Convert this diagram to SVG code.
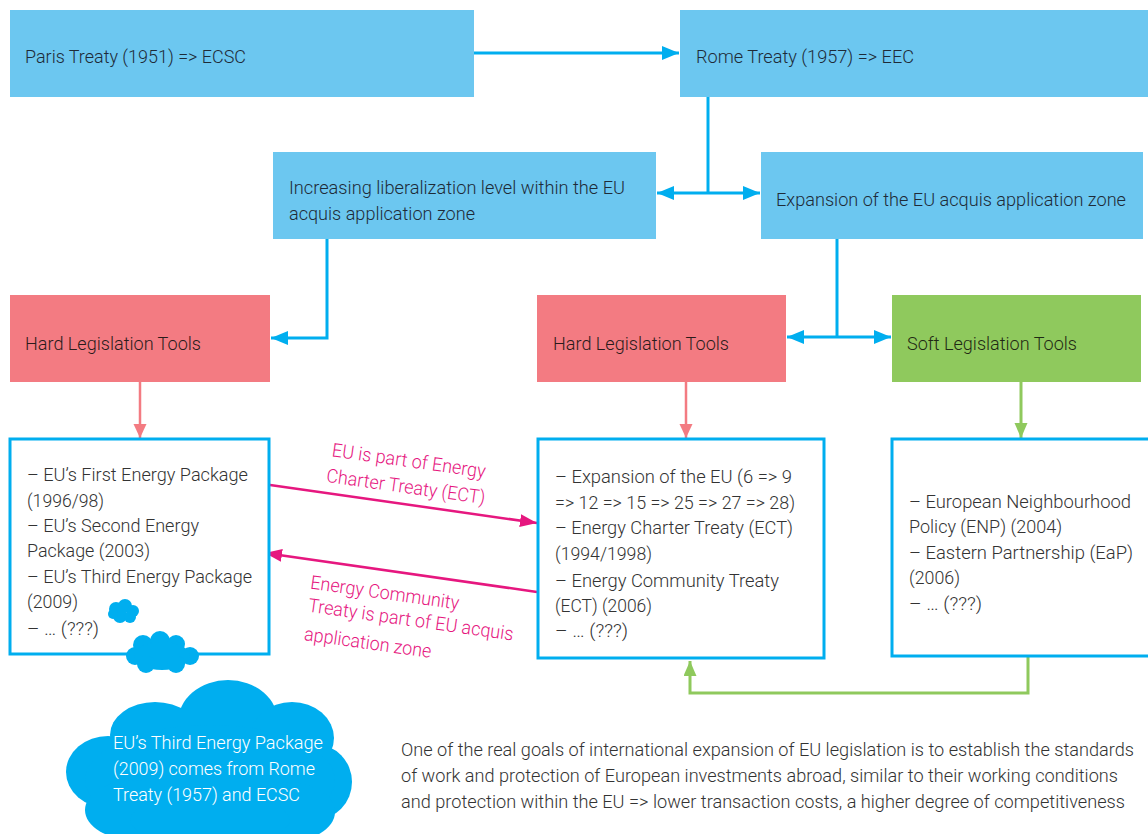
<svg xmlns="http://www.w3.org/2000/svg" width="1148" height="834" viewBox="0 0 1148 834">
<defs>
<style>
text{font-family:Roboto,"Liberation Sans",sans-serif;font-weight:300;font-size:19px}
.bx{fill:#6CC7F0}
.hd{fill:#F37B82}
.sf{fill:#8FC95D}
.dk{fill:#1E2B38}
.rd{fill:#2B1B1B}
.gr{fill:#1F2A14}
.li{fill:#333333}
.pk{fill:#E6177F}
.wt{fill:#FFFFFF}
.nt{font-size:18px}
.lst{fill:#FFFFFF;stroke:#00AEEF;stroke-width:3}
.cb{fill:none;stroke:#00AEEF;stroke-width:3}
.cp{fill:none;stroke:#F37B82;stroke-width:2.5}
.cg{fill:none;stroke:#8FC95D;stroke-width:3}
.cm{fill:none;stroke:#E6177F;stroke-width:2.5}
.cloud{fill:#00AEEF}
</style>
<marker id="ab" markerUnits="userSpaceOnUse" markerWidth="18" markerHeight="16" refX="17" refY="7" orient="auto-start-reverse"><path d="M0,0 L17,7 L0,14 z" fill="#00AEEF"/></marker>
<marker id="ap" markerUnits="userSpaceOnUse" markerWidth="14" markerHeight="14" refX="14" refY="6.5" orient="auto"><path d="M0,0 L14,6.5 L0,13 z" fill="#F37B82"/></marker>
<marker id="ag" markerUnits="userSpaceOnUse" markerWidth="16" markerHeight="14" refX="15" refY="6.5" orient="auto"><path d="M0,0 L15,6.5 L0,13 z" fill="#8FC95D"/></marker>
<marker id="am" markerUnits="userSpaceOnUse" markerWidth="18" markerHeight="14" refX="17" refY="6.5" orient="auto"><path d="M0,0 L17,6.5 L0,13 z" fill="#E6177F"/></marker>
</defs>
<rect width="1148" height="834" fill="#FFFFFF"/>

<g id="connectors">
<path class="cb" d="M474,53 H679" marker-end="url(#ab)"/>
<path class="cb" d="M708,97 V193"/>
<path class="cb" d="M657,193 H760" marker-start="url(#ab)" marker-end="url(#ab)"/>
<path class="cb" d="M327,239 V338 H271" marker-end="url(#ab)"/>
<path class="cb" d="M837,239 V337"/>
<path class="cb" d="M787,337 H891" marker-start="url(#ab)" marker-end="url(#ab)"/>
<path class="cp" d="M140,381 V438" marker-end="url(#ap)"/>
<path class="cp" d="M686,382 V438" marker-end="url(#ap)"/>
<path class="cg" d="M1021,382 V438" marker-end="url(#ag)"/>
<path class="cg" d="M1028,657 V693 H690 V661" marker-end="url(#ag)"/>
<path class="cm" d="M256,483 L537,523" marker-end="url(#am)"/>
<path class="cm" d="M537,592 L265,553" marker-end="url(#am)"/>
<path d="M242,507 H257 V600 H242 M257,553 H265" fill="none" stroke="#222222" stroke-width="2.5"/>
</g>

<g id="paris">
<rect class="bx" x="10" y="10" width="464" height="87"/>
<text class="dk" x="25" y="63" textLength="221" lengthAdjust="spacingAndGlyphs">Paris Treaty (1951) =&gt; ECSC</text>
</g>
<g id="rome">
<rect class="bx" x="680" y="10" width="468" height="87"/>
<text class="dk" x="696" y="63" textLength="218" lengthAdjust="spacingAndGlyphs">Rome Treaty (1957) =&gt; EEC</text>
</g>
<g id="liberalization">
<rect class="bx" x="273" y="152" width="383" height="87"/>
<text class="dk" x="289" y="194" textLength="336" lengthAdjust="spacingAndGlyphs">Increasing liberalization level within the EU</text>
<text class="dk" x="289" y="220" textLength="186" lengthAdjust="spacingAndGlyphs">acquis application zone</text>
</g>
<g id="expansion">
<rect class="bx" x="761" y="152" width="382" height="87"/>
<text class="dk" x="776" y="206" textLength="350" lengthAdjust="spacingAndGlyphs">Expansion of the EU acquis application zone</text>
</g>
<g id="hard1">
<rect class="hd" x="10" y="295" width="260" height="87"/>
<text class="rd" x="25" y="350" textLength="176" lengthAdjust="spacingAndGlyphs">Hard Legislation Tools</text>
</g>
<g id="hard2">
<rect class="hd" x="537" y="295" width="249" height="87"/>
<text class="rd" x="553" y="350" textLength="176" lengthAdjust="spacingAndGlyphs">Hard Legislation Tools</text>
</g>
<g id="soft">
<rect class="sf" x="892" y="295" width="249" height="87"/>
<text class="gr" x="907" y="350" textLength="170" lengthAdjust="spacingAndGlyphs">Soft Legislation Tools</text>
</g>

<g id="list1">
<rect class="lst" x="10" y="439" width="259" height="215"/>
<text class="li" x="27" y="481" textLength="221" lengthAdjust="spacingAndGlyphs">– EU’s First Energy Package</text>
<text class="li" x="27" y="507" textLength="77" lengthAdjust="spacingAndGlyphs">(1996/98)</text>
<text class="li" x="27" y="532" textLength="172" lengthAdjust="spacingAndGlyphs">– EU’s Second Energy</text>
<text class="li" x="27" y="557" textLength="123" lengthAdjust="spacingAndGlyphs">Package (2003)</text>
<text class="li" x="27" y="583" textLength="225" lengthAdjust="spacingAndGlyphs">– EU’s Third Energy Package</text>
<text class="li" x="27" y="608" textLength="51" lengthAdjust="spacingAndGlyphs">(2009)</text>
<text class="li" x="27" y="635" textLength="72" lengthAdjust="spacingAndGlyphs">–  … (???)</text>
</g>
<g id="list2">
<rect class="lst" x="538" y="439" width="286" height="219"/>
<text class="li" x="555" y="483" textLength="237" lengthAdjust="spacingAndGlyphs">–  Expansion of the EU (6 =&gt; 9</text>
<text class="li" x="555" y="509" textLength="240" lengthAdjust="spacingAndGlyphs">=&gt; 12 =&gt; 15 =&gt; 25 =&gt; 27 =&gt; 28)</text>
<text class="li" x="555" y="534" textLength="238" lengthAdjust="spacingAndGlyphs">–  Energy Charter Treaty (ECT)</text>
<text class="li" x="555" y="560" textLength="97" lengthAdjust="spacingAndGlyphs">(1994/1998)</text>
<text class="li" x="555" y="587" textLength="224" lengthAdjust="spacingAndGlyphs">–  Energy Community Treaty</text>
<text class="li" x="555" y="612" textLength="97" lengthAdjust="spacingAndGlyphs">(ECT) (2006)</text>
<text class="li" x="555" y="637" textLength="73" lengthAdjust="spacingAndGlyphs">–  … (???)</text>
</g>
<g id="list3">
<rect class="lst" x="892" y="439" width="262" height="217"/>
<text class="li" x="909" y="508" textLength="222" lengthAdjust="spacingAndGlyphs">–  European Neighbourhood</text>
<text class="li" x="909" y="533" textLength="153" lengthAdjust="spacingAndGlyphs">Policy (ENP) (2004)</text>
<text class="li" x="909" y="559" textLength="224" lengthAdjust="spacingAndGlyphs">–  Eastern Partnership (EaP)</text>
<text class="li" x="909" y="584" textLength="51" lengthAdjust="spacingAndGlyphs">(2006)</text>
<text class="li" x="909" y="610" textLength="73" lengthAdjust="spacingAndGlyphs">–  … (???)</text>
</g>

<g id="label-ect">
<text class="pk" text-anchor="middle" transform="translate(408,467) rotate(8)" textLength="155" lengthAdjust="spacingAndGlyphs">EU is part of Energy</text>
<text class="pk" text-anchor="middle" transform="translate(405,493) rotate(8)" textLength="160" lengthAdjust="spacingAndGlyphs">Charter Treaty (ECT)</text>
</g>
<g id="label-ecomt">
<text class="pk" text-anchor="middle" transform="translate(384,599) rotate(8)" textLength="150" lengthAdjust="spacingAndGlyphs">Energy Community</text>
<text class="pk" text-anchor="middle" transform="translate(410,626) rotate(8)" textLength="207" lengthAdjust="spacingAndGlyphs">Treaty is part of EU acquis</text>
<text class="pk" text-anchor="middle" transform="translate(367,649) rotate(8)" textLength="128" lengthAdjust="spacingAndGlyphs">application zone</text>
</g>

<g id="cloud-small" class="cloud">
<circle cx="116" cy="609" r="7"/>
<circle cx="125" cy="606" r="7"/>
<circle cx="133" cy="611" r="6"/>
<circle cx="120" cy="616" r="7"/>
<circle cx="130" cy="617" r="6"/>
<circle cx="113" cy="614" r="5"/>
</g>
<g id="cloud-medium" class="cloud">
<circle cx="143" cy="645" r="10"/>
<circle cx="160" cy="641" r="10"/>
<circle cx="176" cy="644" r="9"/>
<circle cx="135" cy="656" r="9"/>
<circle cx="190" cy="656" r="9"/>
<ellipse cx="162" cy="656" rx="28" ry="14"/>
<circle cx="146" cy="664" r="9"/>
<circle cx="176" cy="664" r="9"/>
</g>
<g id="cloud-big">
<g class="cloud">
<ellipse cx="228" cy="722" rx="50" ry="42"/>
<ellipse cx="155" cy="735" rx="45" ry="33"/>
<ellipse cx="292" cy="738" rx="42" ry="36"/>
<ellipse cx="108" cy="772" rx="42" ry="36"/>
<ellipse cx="315" cy="782" rx="37" ry="38"/>
<ellipse cx="210" cy="780" rx="125" ry="55"/>
<ellipse cx="135" cy="810" rx="50" ry="30"/>
<ellipse cx="285" cy="812" rx="50" ry="30"/>
<ellipse cx="210" cy="820" rx="80" ry="25"/>
</g>
<text class="wt" x="113" y="749" textLength="210" lengthAdjust="spacingAndGlyphs">EU’s Third Energy Package</text>
<text class="wt" x="113" y="775" textLength="202" lengthAdjust="spacingAndGlyphs">(2009) comes from Rome</text>
<text class="wt" x="113" y="801" textLength="187" lengthAdjust="spacingAndGlyphs">Treaty (1957) and ECSC</text>
</g>

<g id="note">
<text class="li nt" x="401" y="756" textLength="733" lengthAdjust="spacingAndGlyphs">One of the real goals of international expansion of EU legislation is to establish the standards</text>
<text class="li nt" x="401" y="782" textLength="717" lengthAdjust="spacingAndGlyphs">of work and protection of European investments abroad, similar to their working conditions</text>
<text class="li nt" x="401" y="808" textLength="724" lengthAdjust="spacingAndGlyphs">and protection within the EU =&gt; lower transaction costs, a higher degree of competitiveness</text>
</g>
</svg>
